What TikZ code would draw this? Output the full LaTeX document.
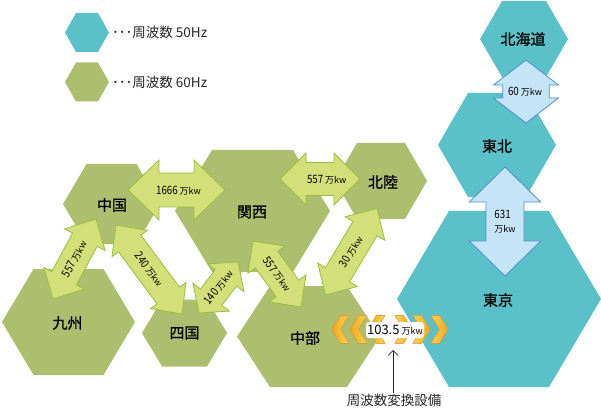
\documentclass[tikz,border=0pt]{standalone}
\usepackage{fontspec}
\setmainfont{Noto Sans CJK JP}
\newfontfamily\regfont[FakeBold=0.7]{Noto Sans CJK JP}
\usetikzlibrary{calc,arrows.meta}
\definecolor{teal50}{HTML}{5BC1C8}
\definecolor{olive60}{HTML}{ADBE6E}
\definecolor{gfill}{HTML}{D3E07A}
\definecolor{gdraw}{HTML}{9BBD3E}
\definecolor{bfill}{HTML}{C6E4F7}
\definecolor{bdraw}{HTML}{4B90D2}
\definecolor{chor}{HTML}{F2A81C}
\definecolor{chye}{HTML}{F8D455}
\definecolor{chdr}{HTML}{F0A23A}
% hexagon: style, cx, cy, w, h, inset
\newcommand\hexshape[6]{\fill[#1] ({#2-#4/2},#3) -- ({#2-#4/2+#6},{#3-#5/2}) -- ({#2+#4/2-#6},{#3-#5/2}) -- ({#2+#4/2},#3) -- ({#2+#4/2-#6},{#3+#5/2}) -- ({#2-#4/2+#6},{#3+#5/2}) -- cycle;}
% block arrow: name, style, A, B, head length, head half width, shaft half width
\newcommand\blockarrow[7]{%
  \coordinate (#1-p) at ($(#3)!#5!(#4)$);
  \coordinate (#1-q) at ($(#4)!#5!(#3)$);
  \filldraw[#2] (#3) -- ($(#1-p)!#6!-90:(#3)$) -- ($(#1-p)!#7!-90:(#3)$) -- ($(#1-q)!#7!90:(#4)$) -- ($(#1-q)!#6!90:(#4)$) -- (#4) -- ($(#1-q)!#6!-90:(#4)$) -- ($(#1-q)!#7!-90:(#4)$) -- ($(#1-p)!#7!90:(#3)$) -- ($(#1-p)!#6!90:(#3)$) -- cycle;}
\newcommand\chevL[1]{\filldraw[chev, left color=chor, right color=chye] (#1,329.3) -- ({#1+8.5},315.3) -- ({#1+17},315.3) -- ({#1+8.5},329.3) -- ({#1+17},343.3) -- ({#1+8.5},343.3) -- cycle;}
\newcommand\chevR[1]{\filldraw[chev, left color=chye, right color=chor] (#1,329.3) -- ({#1-8.5},315.3) -- ({#1-17},315.3) -- ({#1-8.5},329.3) -- ({#1-17},343.3) -- ({#1-8.5},343.3) -- cycle;}
\newcommand\mwlab[1]{\scalebox{0.85}[1]{#1}\,{\fontsize{9}{10}\selectfont 万kw}}
\tikzset{
  region/.style={font=\regfont\fontsize{15}{17}\selectfont, text=black, inner sep=0pt},
  garrow/.style={fill=gfill, draw=gdraw, line width=0.8pt, line join=miter},
  barrow/.style={fill=bfill, draw=bdraw, line width=0.8pt, line join=miter},
  alabel/.style={inner sep=0pt, font=\fontsize{11.5}{12}\selectfont, text=black},
  chev/.style={draw=chdr, line width=0.6pt, line join=miter},
  legtext/.style={anchor=west, inner sep=0pt, font=\fontsize{13.5}{15}\selectfont, text=black!85}
}
\begin{document}
\begin{tikzpicture}[x=1pt,y=-1pt]
\useasboundingbox (0,0) rectangle (601,411);
% legend
\hexshape{teal50}{87}{32.5}{44}{39}{11}
\hexshape{olive60}{87}{82}{44}{39}{11}
\node[legtext] (leg50) at (112,32.5) {･･･周波数 50Hz};
\node[legtext] (leg60) at (112,82) {･･･周波数 60Hz};
% 50Hz regions
\hexshape{teal50}{524}{39}{88}{76}{22}
\hexshape{teal50}{497}{145}{118}{104}{30}
\hexshape{teal50}{499}{299}{204}{176}{52}
% 60Hz regions
\hexshape{olive60}{252.5}{211}{155}{122}{37}
\hexshape{olive60}{111.5}{204}{97}{80}{23.5}
\hexshape{olive60}{68.5}{322}{133}{106}{31.5}
\hexshape{olive60}{184.5}{333}{85}{67}{20}
\hexshape{olive60}{381}{181}{92}{76}{22}
\hexshape{olive60}{308.5}{336.5}{143}{101}{33}
% region names
\node[region] (hokkaido) at (523,39) {北海道};
\node[region] (tohoku) at (497,146) {東北};
\node[region] (tokyo) at (498,300) {東京};
\node[region] (kansai) at (252,212) {関西};
\node[region] (chugoku) at (112,205) {中国};
\node[region] (kyushu) at (67.5,323) {九州};
\node[region] (shikoku) at (184.5,333) {四国};
\node[region] (hokuriku) at (383,182) {北陸};
\node[region] (chubu) at (305,338) {中部};
% arrow end points
\coordinate (a1) at (128,190);   \coordinate (b1) at (225,190);
\coordinate (a2) at (280,179);   \coordinate (b2) at (360,179);
\coordinate (a3) at (53,299);    \coordinate (b3) at (96,219);
\coordinate (a4) at (116,225);   \coordinate (b4) at (182,314);
\coordinate (a5) at (199,313);   \coordinate (b5) at (238,262);
\coordinate (a6) at (253,241);   \coordinate (b6) at (301,307);
\coordinate (a7) at (325.5,295); \coordinate (b7) at (377,208.3);
\coordinate (a8) at (526,60);    \coordinate (b8) at (526,123);
\coordinate (a9) at (505,167);   \coordinate (b9) at (505,276);
% green arrows
\blockarrow{ar1}{garrow}{a1}{b1}{31pt}{30pt}{17pt}
\blockarrow{ar2}{garrow}{a2}{b2}{26pt}{26pt}{16.5pt}
\blockarrow{ar3}{garrow}{a3}{b3}{23.5pt}{23pt}{14pt}
\blockarrow{ar4}{garrow}{a4}{b4}{23pt}{22pt}{14pt}
\blockarrow{ar5}{garrow}{a5}{b5}{20pt}{23pt}{13.5pt}
\blockarrow{ar6}{garrow}{a6}{b6}{23pt}{23pt}{14pt}
\blockarrow{ar7}{garrow}{a7}{b7}{23.5pt}{23pt}{14pt}
% blue arrows
\blockarrow{ar8}{barrow}{a8}{b8}{25pt}{32.5pt}{23.3pt}
\blockarrow{ar9}{barrow}{a9}{b9}{35pt}{35.7pt}{19pt}
% arrow labels
\node[alabel] (l1) at (178.5,190.5) {\mwlab{1666}};
\node[alabel] (l2) at (326.7,180) {\mwlab{557}};
\path (a3) -- (b3) node[alabel, midway, sloped] (l3) {\mwlab{557}};
\path (a4) -- (b4) node[alabel, midway, sloped] (l4) {\mwlab{240}};
\path (a5) -- (b5) node[alabel, midway, sloped] (l5) {\mwlab{140}};
\path (a6) -- (b6) node[alabel, midway, sloped] (l6) {\mwlab{557}};
\path (a7) -- (b7) node[alabel, midway, sloped] (l7) {\mwlab{30}};
\node[alabel] (l8) at (525,92) {\mwlab{60}};
\node[alabel, align=left, font=\fontsize{11.5}{14}\selectfont] (l9) at (505,222) {\scalebox{0.85}[1]{631}\\{\fontsize{9}{10}\selectfont 万kw}};
% frequency converter
\chevL{332}\chevL{350}\chevL{368}
\chevR{412}\chevR{430}\chevR{448}
\node[fill=white, rounded corners=3pt, inner sep=1pt, minimum width=58pt, minimum height=16pt, font=\fontsize{13}{14}\selectfont] (cap) at (395,330) {103.5\,{\fontsize{9}{10}\selectfont 万kw}};
\coordinate (cvtip) at (393,350);
\node[inner sep=1pt, font=\fontsize{13.5}{15}\selectfont, text=black!85] (conv) at (394,400) {周波数変換設備};
\draw[black!85, line width=0.7pt, -{Straight Barb[length=5pt,width=10pt]}] (conv.north -| cvtip) -- (cvtip);
\end{tikzpicture}
\end{document}
